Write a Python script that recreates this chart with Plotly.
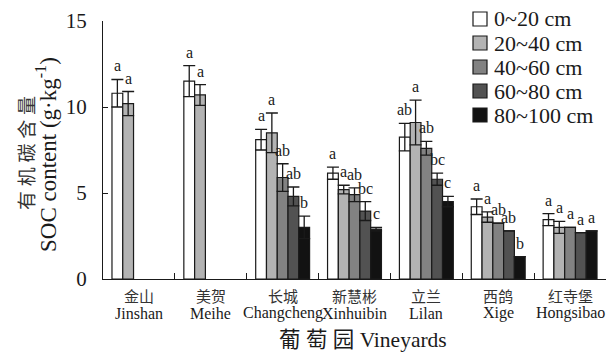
import plotly.graph_objects as go

# Vineyards (Chinese / English names)
sites_cn = ["金山", "美贺", "长城", "新慧彬", "立兰", "西鸽", "红寺堡"]
sites_en = ["Jinshan", "Meihe", "Changcheng", "Xinhuibin", "Lilan", "Xige", "Hongsibao"]

depths = ["0~20 cm", "20~40 cm", "40~60 cm", "60~80 cm", "80~100 cm"]
colors = ["#ffffff", "#b3b3b3", "#828282", "#525252", "#121212"]

# SOC content (g/kg) per depth layer, one value per vineyard (None = not sampled)
soc_0_20 = [10.8, 11.5, 8.1, 6.15, 8.25, 4.2, 3.45]
soc_20_40 = [10.2, 10.7, 8.5, 5.2, 9.1, 3.6, 3.0]
soc_40_60 = [None, None, 5.9, 4.9, 7.6, 3.25, 3.0]
soc_60_80 = [None, None, 4.8, 3.95, 5.8, 2.8, 2.7]
soc_80_100 = [None, None, 3.0, 2.9, 4.5, 1.3, 2.8]

# Standard errors
err_0_20 = [0.8, 0.9, 0.6, 0.35, 0.8, 0.45, 0.35]
err_20_40 = [0.7, 0.6, 1.15, 0.25, 1.3, 0.3, 0.35]
err_40_60 = [None, None, 0.8, 0.4, 0.4, None, None]
err_60_80 = [None, None, 0.55, 0.55, 0.35, None, None]
err_80_100 = [None, None, 0.65, 0.1, 0.3, None, None]

# Significance letters
sig_0_20 = ["a", "a", "a", "a", "ab", "a", "a"]
sig_20_40 = ["a", "a", "a", "a", "a", "a", "a"]
sig_40_60 = ["", "", "ab", "ab", "ab", "ab", "a"]
sig_60_80 = ["", "", "ab", "bc", "bc", "ab", "a"]
sig_80_100 = ["", "", "b", "c", "c", "b", "a"]

values = [soc_0_20, soc_20_40, soc_40_60, soc_60_80, soc_80_100]
errors = [err_0_20, err_20_40, err_40_60, err_60_80, err_80_100]
letters = [sig_0_20, sig_20_40, sig_40_60, sig_60_80, sig_80_100]

SERIF = "Liberation Serif, Times New Roman, Noto Sans CJK SC, serif"
INK = "#1a1a1a"

W, H = 614, 353
ML, MR, MT, MB = 103, 8, 21, 74
PW, PH = W - ML - MR, H - MT - MB


def px_to_paper(px, py):
    return (px - ML) / PW, (H - MB - py) / PH


n_cat = len(sites_en)
xs = list(range(n_cat))
bargap = 0.25
bar_w = (1 - bargap) / len(depths)

fig = go.Figure()
for j, (name, col, vals, errs) in enumerate(zip(depths, colors, values, errors)):
    fig.add_trace(go.Bar(
        x=xs, y=vals, name=name, showlegend=False,
        marker=dict(color=col, line=dict(color=INK, width=1.2)),
        error_y=dict(type="data", array=errs, visible=True,
                     color=INK, thickness=1.3, width=6),
    ))

# invisible trace carrying the boundary ticks axis
fig.add_trace(go.Scatter(x=[-0.5, n_cat - 0.5], y=[0, 0], xaxis="x2",
                         mode="lines", line=dict(width=0), showlegend=False,
                         hoverinfo="skip"))

annotations = []
shapes = []

# significance letters above each bar
for j in range(len(depths)):
    for i in range(n_cat):
        v = values[j][i]
        if v is None or not letters[j][i]:
            continue
        top = v + (errors[j][i] or 0)
        annotations.append(dict(
            x=i + (j - 2) * bar_w, y=top, xref="x", yref="y",
            text=letters[j][i], showarrow=False,
            xanchor="center", yanchor="bottom", yshift=3,
            font=dict(family=SERIF, size=16, color=INK),
        ))

# two-line category labels
for i in range(n_cat):
    annotations.append(dict(x=i, y=0, xref="x", yref="paper", text=sites_cn[i],
                            showarrow=False, xanchor="center", yanchor="middle",
                            yshift=-18, font=dict(family=SERIF, size=15, color="#333")))
    annotations.append(dict(x=i, y=0, xref="x", yref="paper", text=sites_en[i],
                            showarrow=False, xanchor="center", yanchor="middle",
                            yshift=-34, font=dict(family=SERIF, size=16, color=INK)))

# axis titles
annotations.append(dict(x=0.5, y=0, xref="paper", yref="paper",
                        text="葡 萄 园 Vineyards", showarrow=False,
                        xanchor="center", yanchor="middle", yshift=-61, xshift=8,
                        font=dict(family=SERIF, size=21.5, color=INK)))
annotations.append(dict(x=0, y=0.5, xref="paper", yref="paper",
                        text="有 机 碳 含 量", showarrow=False, textangle=-90,
                        xanchor="center", yanchor="middle", xshift=-76, yshift=-3,
                        font=dict(family=SERIF, size=19, color="#333")))
annotations.append(dict(x=0, y=0.5, xref="paper", yref="paper",
                        text="SOC content (g·kg<sup>-1</sup>)", showarrow=False,
                        textangle=-90, xanchor="center", yanchor="middle",
                        xshift=-57, yshift=-5,
                        font=dict(family=SERIF, size=23, color=INK)))

# depth key: swatches and labels in the upper right
key_left, key_top, key_step, box = 473, 19, 24, 14
for j, (name, col) in enumerate(zip(depths, colors)):
    cy = key_top + j * key_step
    x0, y0 = px_to_paper(key_left, cy + box / 2)
    x1, y1 = px_to_paper(key_left + box, cy - box / 2)
    shapes.append(dict(type="rect", xref="paper", yref="paper",
                       x0=x0, y0=y0, x1=x1, y1=y1,
                       fillcolor=col, line=dict(color=INK, width=1.2)))
    tx, ty = px_to_paper(key_left + box + 5, cy)
    annotations.append(dict(x=tx, y=ty, xref="paper", yref="paper", text=name,
                            showarrow=False, xanchor="left", yanchor="middle",
                            font=dict(family=SERIF, size=22, color=INK)))

fig.update_layout(
    width=W, height=H,
    margin=dict(l=ML, r=MR, t=MT, b=MB),
    paper_bgcolor="white", plot_bgcolor="white",
    barmode="group", bargap=bargap, bargroupgap=0,
    font=dict(family=SERIF, color=INK),
    showlegend=False,
    xaxis=dict(range=[-0.5, n_cat - 0.5], tickvals=xs, showticklabels=False,
               ticks="", showline=True, linecolor=INK, linewidth=1.3,
               showgrid=False, zeroline=False),
    xaxis2=dict(range=[-0.5, n_cat - 0.5], overlaying="x", anchor="y",
                side="bottom", tickvals=[i + 0.5 for i in xs],
                showticklabels=False, ticks="inside", ticklen=6,
                tickwidth=1.3, tickcolor=INK, showline=False, showgrid=False,
                zeroline=False),
    yaxis=dict(range=[0, 15], tickvals=[0, 5, 10, 15], ticks="inside",
               ticklen=5, tickwidth=1.3, tickcolor=INK, showline=True,
               linecolor=INK, linewidth=1.3, showgrid=False, zeroline=False,
               ticklabelstandoff=11,
               tickfont=dict(family=SERIF, size=21, color=INK)),
    annotations=annotations,
    shapes=shapes,
)

fig.write_html("out.html")
